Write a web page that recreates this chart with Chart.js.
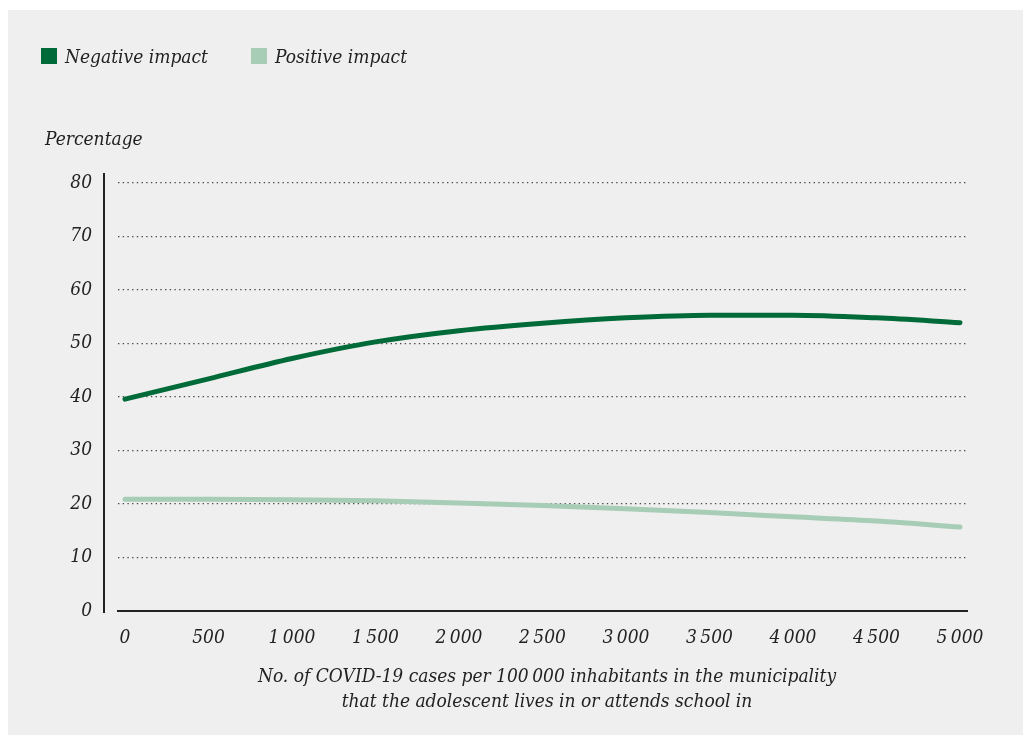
<!DOCTYPE html>
<html>
<head>
<meta charset="utf-8">
<script src="https://cdn.jsdelivr.net/npm/chart.js@4"></script>
<style>
  html, body { margin: 0; padding: 0; background: #ffffff; }
  #wrap { position: absolute; left: 8px; top: 10px; width: 1015px; height: 725px; background: #efefef; }
</style>
</head>
<body>
<div id="wrap"><canvas id="myChart" width="1015" height="725"></canvas></div>
<script>
// cases per 100 000 inhabitants
const casesX = [0, 500, 1000, 1500, 2000, 2500, 3000, 3500, 4000, 4500, 5000];
const negativeImpact = [39.6, 43.4, 47.2, 50.3, 52.4, 53.8, 54.8, 55.3, 55.3, 54.8, 53.9];
const positiveImpact = [20.9, 20.9, 20.8, 20.6, 20.2, 19.7, 19.1, 18.4, 17.6, 16.8, 15.7];
const xTicks = [0, 500, 1000, 1500, 2000, 2500, 3000, 3500, 4000, 4500, 5000];
const yTicks = [0, 10, 20, 30, 40, 50, 60, 70, 80];

const labelNeg = 'Negative impact';
const labelPos = 'Positive impact';
const yTitle = 'Percentage';
const xTitle = ['No. of COVID-19 cases per 100\u2009000 inhabitants in the municipality',
                'that the adolescent lives in or attends school in'];

const FONT = '"DejaVu Serif Condensed", "DejaVu Serif", serif';
const FSIZE = 19;
const TEXT = '#222222';

function toPoints(vals) {
  return vals.map((v, i) => ({ x: casesX[i], y: v }));
}

function fmt(v) {
  return v >= 1000 ? String(v).replace(/(\d)(\d{3})$/, '$1\u2009$2') : String(v);
}

// legend, y title, x title and the detached y axis line
const extras = {
  id: 'extras',
  afterDraw(chart) {
    const ctx = chart.ctx;
    const area = chart.chartArea;
    ctx.save();

    // y axis line (set apart from the grid)
    ctx.strokeStyle = '#222';
    ctx.lineWidth = 2;
    ctx.beginPath();
    ctx.moveTo(area.left - 14, area.top - 10);
    ctx.lineTo(area.left - 14, area.bottom + 2);
    ctx.stroke();

    ctx.font = 'italic ' + FSIZE + 'px ' + FONT;
    ctx.fillStyle = TEXT;
    ctx.textBaseline = 'middle';

    // legend
    const items = [[33, chart.data.datasets[0]], [243, chart.data.datasets[1]]];
    items.forEach(([x, ds]) => {
      ctx.fillStyle = ds.borderColor;
      ctx.fillRect(x, 38, 16, 16);
      ctx.fillStyle = TEXT;
      ctx.textAlign = 'left';
      ctx.fillText(ds.label, x + 24, 48);
    });

    // y title
    ctx.fillText(yTitle, 37, 130);

    // x title
    ctx.textAlign = 'center';
    ctx.fillText(xTitle[0], 539, 667);
    ctx.fillText(xTitle[1], 539, 692);
    ctx.restore();
  }
};

const ctx = document.getElementById('myChart').getContext('2d');
new Chart(ctx, {
  type: 'line',
  data: {
    datasets: [{
      label: labelNeg,
      data: toPoints(negativeImpact),
      borderColor: '#006b38',
      borderWidth: 5,
      pointRadius: 0,
      cubicInterpolationMode: 'monotone',
      borderCapStyle: 'round'
    }, {
      label: labelPos,
      data: toPoints(positiveImpact),
      borderColor: '#a7cdb6',
      borderWidth: 5,
      pointRadius: 0,
      cubicInterpolationMode: 'monotone',
      borderCapStyle: 'round'
    }]
  },
  options: {
    responsive: false,
    animation: false,
    layout: { padding: { left: 0, top: 173, right: 56, bottom: 0 } },
    plugins: {
      legend: { display: false },
      tooltip: { enabled: false }
    },
    scales: {
      x: {
        type: 'linear',
        min: -42,
        max: 5042,
        afterBuildTicks: (scale) => { scale.ticks = xTicks.map(v => ({ value: v })); },
        afterFit: (scale) => { scale.height = 124; },
        grid: { display: false, drawTicks: false },
        border: { display: true, color: '#222', width: 2 },
        ticks: {
          padding: 16,
          color: TEXT,
          font: { family: FONT, style: 'italic', size: FSIZE },
          callback: (v) => fmt(v)
        }
      },
      y: {
        min: 0,
        max: 80,
        afterBuildTicks: (scale) => { scale.ticks = yTicks.map(v => ({ value: v })); },
        afterFit: (scale) => { scale.width = 110; },
        grid: {
          drawTicks: false,
          color: (c) => c.tick && c.tick.value === 0 ? 'rgba(0,0,0,0)' : '#4a4a4a',
          lineWidth: 1.3
        },
        border: { display: false, dash: [1.4, 3.3] },
        ticks: {
          padding: 26,
          color: TEXT,
          font: { family: FONT, style: 'italic', size: FSIZE }
        }
      }
    }
  },
  plugins: [extras]
});
</script>
</body>
</html>
